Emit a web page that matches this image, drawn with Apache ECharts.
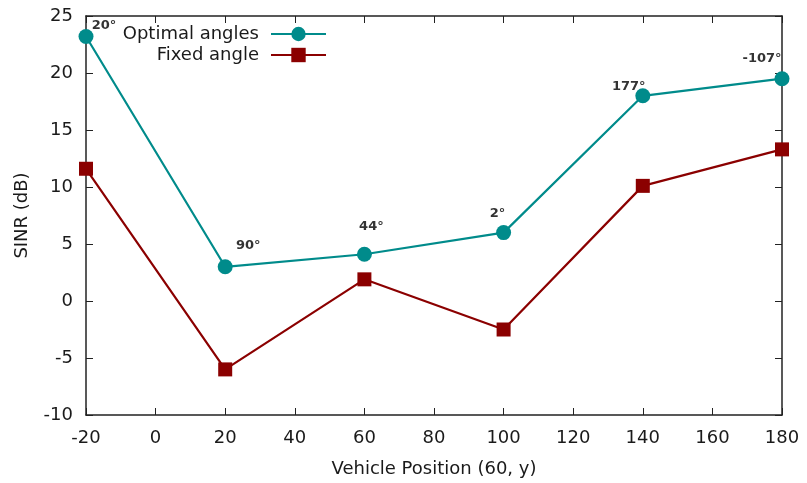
<!DOCTYPE html>
<html>
<head>
<meta charset="utf-8">
<script src="https://cdn.jsdelivr.net/npm/echarts@6/dist/echarts.min.js"></script>
<style>
  html, body { margin: 0; padding: 0; background: #fff; }
  #chart { width: 807px; height: 483px; }
</style>
</head>
<body>
<div id="chart"></div>
<script>
// vehicle positions along y
const positions = [-20, 20, 60, 100, 140, 180];
const optimal = [23.2, 3.0, 4.1, 6.0, 18.0, 19.5];
const fixed = [11.6, -6.0, 1.9, -2.5, 10.1, 13.3];
const angleLabels = ['20°', '90°', '44°', '2°', '177°', '-107°'];
// label offsets in px from each point
const labelOffsets = [[18, -11], [23, -21], [7, -28], [-6, -19], [-14, -9], [-20, -20]];

const font = 'DejaVu Sans';
const axisColor = '#222';
const textColor = '#1a1a1a';

const chart = echarts.init(document.getElementById('chart'));

const optimalData = positions.map((x, i) => ({
  value: [x, optimal[i]],
  label: {
    show: true,
    formatter: angleLabels[i],
    position: 'inside',
    offset: labelOffsets[i],
    color: '#333',
    fontWeight: 'bold',
    fontSize: 13,
    fontFamily: font,
  },
}));

const axisBase = {
  type: 'value',
  axisLine: { show: true, onZero: false, lineStyle: { color: axisColor, width: 1.5 } },
  axisTick: { show: true, inside: true, length: 7, lineStyle: { color: axisColor } },
  splitLine: { show: false },
};

const legendBase = {
  right: 475,
  align: 'right',
  itemWidth: 55, itemHeight: 18,
  textStyle: { fontFamily: font, fontSize: 18, color: textColor, padding: [0, 7, 0, 0] },
};

chart.setOption({
  animation: false,
  grid: { left: 86, right: 25, top: 16, bottom: 67 },
  legend: [
    Object.assign({}, legendBase, { data: ['Optimal angles'], top: 20 }),
    Object.assign({}, legendBase, { data: ['Fixed angle'], top: 41 }),
  ],
  xAxis: [
    Object.assign({}, axisBase, {
      min: -20, max: 180, interval: 20,
      name: 'Vehicle Position (60, y)',
      nameLocation: 'middle',
      nameGap: 45,
      nameTextStyle: { fontFamily: font, fontSize: 18, color: textColor },
      axisLabel: { fontFamily: font, fontSize: 18, color: textColor, margin: 14 },
    }),
    Object.assign({}, axisBase, {
      position: 'top', min: -20, max: 180, interval: 20,
      axisLabel: { show: false },
    }),
  ],
  yAxis: [
    Object.assign({}, axisBase, {
      min: -10, max: 25, interval: 5,
      name: 'SINR (dB)',
      nameLocation: 'middle',
      nameGap: 55,
      nameTextStyle: { fontFamily: font, fontSize: 18, color: textColor },
      axisLabel: { fontFamily: font, fontSize: 18, color: textColor, margin: 13 },
    }),
    Object.assign({}, axisBase, {
      position: 'right', min: -10, max: 25, interval: 5,
      axisLabel: { show: false },
    }),
  ],
  series: [
    {
      name: 'Optimal angles',
      type: 'line',
      data: optimalData,
      symbol: 'circle',
      symbolSize: 15,
      itemStyle: { color: '#008b8b' },
      lineStyle: { color: '#008b8b', width: 2.2 },
      z: 3,
    },
    {
      name: 'Fixed angle',
      type: 'line',
      data: positions.map((x, i) => [x, fixed[i]]),
      symbol: 'rect',
      symbolSize: 14,
      itemStyle: { color: '#8b0000' },
      lineStyle: { color: '#8b0000', width: 2.2 },
    },
  ],
});
</script>
</body>
</html>
